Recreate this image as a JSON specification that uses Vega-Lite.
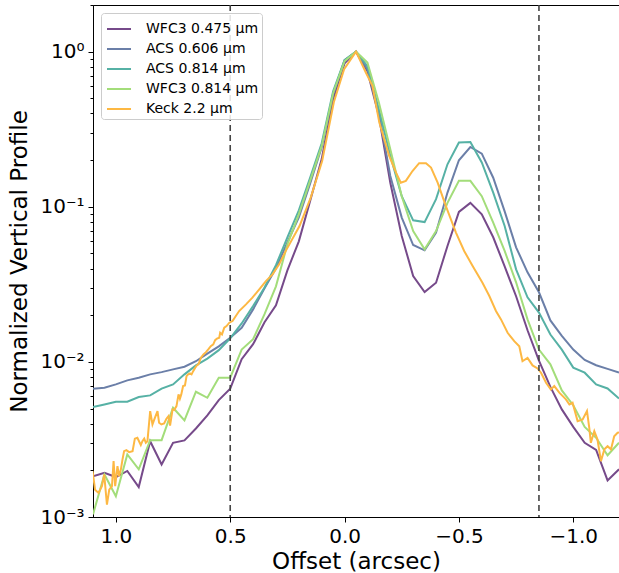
{
  "$schema": "https://vega.github.io/schema/vega-lite/v6.json",
  "width": 526,
  "height": 512,
  "autosize": {"type": "none"},
  "padding": {"left": 93, "top": 5, "right": 0, "bottom": 56},
  "background": "white",
  "config": {"view": {"stroke": "black", "strokeWidth": 1}, "font": "DejaVu Sans"},
  "datasets": {
    "vlines": [{"x": 0.5}, {"x": -0.85}],
    "profiles": [
      {"s":"WFC3 0.475 μm","x":1.10,"y":0.00183},{"s":"WFC3 0.475 μm","x":1.05,"y":0.00193},{"s":"WFC3 0.475 μm","x":1.00,"y":0.00181},{"s":"WFC3 0.475 μm","x":0.95,"y":0.00198},{"s":"WFC3 0.475 μm","x":0.90,"y":0.00156},{"s":"WFC3 0.475 μm","x":0.85,"y":0.00308},{"s":"WFC3 0.475 μm","x":0.80,"y":0.00218},{"s":"WFC3 0.475 μm","x":0.75,"y":0.00301},{"s":"WFC3 0.475 μm","x":0.70,"y":0.00312},{"s":"WFC3 0.475 μm","x":0.65,"y":0.00372},{"s":"WFC3 0.475 μm","x":0.60,"y":0.00452},{"s":"WFC3 0.475 μm","x":0.55,"y":0.00567},{"s":"WFC3 0.475 μm","x":0.50,"y":0.00672},{"s":"WFC3 0.475 μm","x":0.45,"y":0.0104},{"s":"WFC3 0.475 μm","x":0.40,"y":0.0130},{"s":"WFC3 0.475 μm","x":0.35,"y":0.0180},{"s":"WFC3 0.475 μm","x":0.30,"y":0.0232},{"s":"WFC3 0.475 μm","x":0.25,"y":0.0389},{"s":"WFC3 0.475 μm","x":0.20,"y":0.0599},{"s":"WFC3 0.475 μm","x":0.15,"y":0.110},{"s":"WFC3 0.475 μm","x":0.10,"y":0.203},{"s":"WFC3 0.475 μm","x":0.05,"y":0.494},{"s":"WFC3 0.475 μm","x":0.00,"y":0.843},{"s":"WFC3 0.475 μm","x":-0.05,"y":1.0},{"s":"WFC3 0.475 μm","x":-0.10,"y":0.748},{"s":"WFC3 0.475 μm","x":-0.15,"y":0.385},{"s":"WFC3 0.475 μm","x":-0.20,"y":0.143},{"s":"WFC3 0.475 μm","x":-0.25,"y":0.0648},{"s":"WFC3 0.475 μm","x":-0.30,"y":0.0358},{"s":"WFC3 0.475 μm","x":-0.35,"y":0.0282},{"s":"WFC3 0.475 μm","x":-0.40,"y":0.0324},{"s":"WFC3 0.475 μm","x":-0.45,"y":0.0559},{"s":"WFC3 0.475 μm","x":-0.50,"y":0.0926},{"s":"WFC3 0.475 μm","x":-0.55,"y":0.106},{"s":"WFC3 0.475 μm","x":-0.60,"y":0.0894},{"s":"WFC3 0.475 μm","x":-0.65,"y":0.0636},{"s":"WFC3 0.475 μm","x":-0.70,"y":0.0413},{"s":"WFC3 0.475 μm","x":-0.75,"y":0.0265},{"s":"WFC3 0.475 μm","x":-0.80,"y":0.0160},{"s":"WFC3 0.475 μm","x":-0.85,"y":0.0102},{"s":"WFC3 0.475 μm","x":-0.90,"y":0.00690},{"s":"WFC3 0.475 μm","x":-0.95,"y":0.00494},{"s":"WFC3 0.475 μm","x":-1.00,"y":0.00381},{"s":"WFC3 0.475 μm","x":-1.05,"y":0.00301},{"s":"WFC3 0.475 μm","x":-1.10,"y":0.00271},{"s":"WFC3 0.475 μm","x":-1.15,"y":0.00172},{"s":"WFC3 0.475 μm","x":-1.20,"y":0.00203},

      {"s":"ACS 0.606 μm","x":1.10,"y":0.00672},{"s":"ACS 0.606 μm","x":1.05,"y":0.00682},{"s":"ACS 0.606 μm","x":1.00,"y":0.00716},{"s":"ACS 0.606 μm","x":0.95,"y":0.00760},{"s":"ACS 0.606 μm","x":0.90,"y":0.00791},{"s":"ACS 0.606 μm","x":0.85,"y":0.00831},{"s":"ACS 0.606 μm","x":0.80,"y":0.00859},{"s":"ACS 0.606 μm","x":0.75,"y":0.00895},{"s":"ACS 0.606 μm","x":0.70,"y":0.00931},{"s":"ACS 0.606 μm","x":0.65,"y":0.0101},{"s":"ACS 0.606 μm","x":0.60,"y":0.0113},{"s":"ACS 0.606 μm","x":0.55,"y":0.0126},{"s":"ACS 0.606 μm","x":0.50,"y":0.0143},{"s":"ACS 0.606 μm","x":0.45,"y":0.0166},{"s":"ACS 0.606 μm","x":0.40,"y":0.0218},{"s":"ACS 0.606 μm","x":0.35,"y":0.0298},{"s":"ACS 0.606 μm","x":0.30,"y":0.0401},{"s":"ACS 0.606 μm","x":0.25,"y":0.0590},{"s":"ACS 0.606 μm","x":0.20,"y":0.0855},{"s":"ACS 0.606 μm","x":0.15,"y":0.142},{"s":"ACS 0.606 μm","x":0.10,"y":0.242},{"s":"ACS 0.606 μm","x":0.05,"y":0.532},{"s":"ACS 0.606 μm","x":0.00,"y":0.881},{"s":"ACS 0.606 μm","x":-0.05,"y":1.0},{"s":"ACS 0.606 μm","x":-0.10,"y":0.771},{"s":"ACS 0.606 μm","x":-0.15,"y":0.405},{"s":"ACS 0.606 μm","x":-0.20,"y":0.158},{"s":"ACS 0.606 μm","x":-0.25,"y":0.0852},{"s":"ACS 0.606 μm","x":-0.30,"y":0.0567},{"s":"ACS 0.606 μm","x":-0.35,"y":0.0524},{"s":"ACS 0.606 μm","x":-0.40,"y":0.0682},{"s":"ACS 0.606 μm","x":-0.45,"y":0.1235},{"s":"ACS 0.606 μm","x":-0.50,"y":0.1995},{"s":"ACS 0.606 μm","x":-0.55,"y":0.243},{"s":"ACS 0.606 μm","x":-0.60,"y":0.220},{"s":"ACS 0.606 μm","x":-0.65,"y":0.154},{"s":"ACS 0.606 μm","x":-0.70,"y":0.0935},{"s":"ACS 0.606 μm","x":-0.75,"y":0.0548},{"s":"ACS 0.606 μm","x":-0.80,"y":0.0378},{"s":"ACS 0.606 μm","x":-0.85,"y":0.0281},{"s":"ACS 0.606 μm","x":-0.90,"y":0.0185},{"s":"ACS 0.606 μm","x":-0.95,"y":0.0147},{"s":"ACS 0.606 μm","x":-1.00,"y":0.0120},{"s":"ACS 0.606 μm","x":-1.05,"y":0.0103},{"s":"ACS 0.606 μm","x":-1.10,"y":0.00952},{"s":"ACS 0.606 μm","x":-1.15,"y":0.00901},{"s":"ACS 0.606 μm","x":-1.20,"y":0.00855},

      {"s":"ACS 0.814 μm","x":1.10,"y":0.00511},{"s":"ACS 0.814 μm","x":1.05,"y":0.00532},{"s":"ACS 0.814 μm","x":1.00,"y":0.00554},{"s":"ACS 0.814 μm","x":0.95,"y":0.00554},{"s":"ACS 0.814 μm","x":0.90,"y":0.00593},{"s":"ACS 0.814 μm","x":0.85,"y":0.00608},{"s":"ACS 0.814 μm","x":0.80,"y":0.00672},{"s":"ACS 0.814 μm","x":0.75,"y":0.00716},{"s":"ACS 0.814 μm","x":0.70,"y":0.00831},{"s":"ACS 0.814 μm","x":0.65,"y":0.00949},{"s":"ACS 0.814 μm","x":0.60,"y":0.0105},{"s":"ACS 0.814 μm","x":0.55,"y":0.0119},{"s":"ACS 0.814 μm","x":0.50,"y":0.0142},{"s":"ACS 0.814 μm","x":0.45,"y":0.0177},{"s":"ACS 0.814 μm","x":0.40,"y":0.0229},{"s":"ACS 0.814 μm","x":0.35,"y":0.0302},{"s":"ACS 0.814 μm","x":0.30,"y":0.0420},{"s":"ACS 0.814 μm","x":0.25,"y":0.0636},{"s":"ACS 0.814 μm","x":0.20,"y":0.0949},{"s":"ACS 0.814 μm","x":0.15,"y":0.155},{"s":"ACS 0.814 μm","x":0.10,"y":0.257},{"s":"ACS 0.814 μm","x":0.05,"y":0.556},{"s":"ACS 0.814 μm","x":0.00,"y":0.881},{"s":"ACS 0.814 μm","x":-0.05,"y":1.0},{"s":"ACS 0.814 μm","x":-0.10,"y":0.806},{"s":"ACS 0.814 μm","x":-0.15,"y":0.426},{"s":"ACS 0.814 μm","x":-0.20,"y":0.213},{"s":"ACS 0.814 μm","x":-0.25,"y":0.117},{"s":"ACS 0.814 μm","x":-0.30,"y":0.0818},{"s":"ACS 0.814 μm","x":-0.35,"y":0.0797},{"s":"ACS 0.814 μm","x":-0.40,"y":0.112},{"s":"ACS 0.814 μm","x":-0.45,"y":0.188},{"s":"ACS 0.814 μm","x":-0.50,"y":0.260},{"s":"ACS 0.814 μm","x":-0.55,"y":0.262},{"s":"ACS 0.814 μm","x":-0.60,"y":0.193},{"s":"ACS 0.814 μm","x":-0.65,"y":0.1235},{"s":"ACS 0.814 μm","x":-0.70,"y":0.0752},{"s":"ACS 0.814 μm","x":-0.75,"y":0.0395},{"s":"ACS 0.814 μm","x":-0.80,"y":0.0261},{"s":"ACS 0.814 μm","x":-0.85,"y":0.0208},{"s":"ACS 0.814 μm","x":-0.90,"y":0.0150},{"s":"ACS 0.814 μm","x":-0.95,"y":0.0120},{"s":"ACS 0.814 μm","x":-1.00,"y":0.00918},{"s":"ACS 0.814 μm","x":-1.05,"y":0.00852},{"s":"ACS 0.814 μm","x":-1.10,"y":0.00716},{"s":"ACS 0.814 μm","x":-1.15,"y":0.00674},{"s":"ACS 0.814 μm","x":-1.20,"y":0.00581},

      {"s":"WFC3 0.814 μm","x":1.10,"y":0.00104},{"s":"WFC3 0.814 μm","x":1.05,"y":0.00188},{"s":"WFC3 0.814 μm","x":1.00,"y":0.00136},{"s":"WFC3 0.814 μm","x":0.95,"y":0.00253},{"s":"WFC3 0.814 μm","x":0.90,"y":0.00203},{"s":"WFC3 0.814 μm","x":0.85,"y":0.00313},{"s":"WFC3 0.814 μm","x":0.80,"y":0.00313},{"s":"WFC3 0.814 μm","x":0.75,"y":0.00506},{"s":"WFC3 0.814 μm","x":0.70,"y":0.00419},{"s":"WFC3 0.814 μm","x":0.65,"y":0.00642},{"s":"WFC3 0.814 μm","x":0.60,"y":0.00587},{"s":"WFC3 0.814 μm","x":0.55,"y":0.00791},{"s":"WFC3 0.814 μm","x":0.50,"y":0.00791},{"s":"WFC3 0.814 μm","x":0.45,"y":0.0120},{"s":"WFC3 0.814 μm","x":0.40,"y":0.0140},{"s":"WFC3 0.814 μm","x":0.35,"y":0.0203},{"s":"WFC3 0.814 μm","x":0.30,"y":0.0307},{"s":"WFC3 0.814 μm","x":0.25,"y":0.0573},{"s":"WFC3 0.814 μm","x":0.20,"y":0.0894},{"s":"WFC3 0.814 μm","x":0.15,"y":0.148},{"s":"WFC3 0.814 μm","x":0.10,"y":0.246},{"s":"WFC3 0.814 μm","x":0.05,"y":0.540},{"s":"WFC3 0.814 μm","x":0.00,"y":0.869},{"s":"WFC3 0.814 μm","x":-0.05,"y":1.0},{"s":"WFC3 0.814 μm","x":-0.10,"y":0.852},{"s":"WFC3 0.814 μm","x":-0.15,"y":0.470},{"s":"WFC3 0.814 μm","x":-0.20,"y":0.235},{"s":"WFC3 0.814 μm","x":-0.25,"y":0.117},{"s":"WFC3 0.814 μm","x":-0.30,"y":0.0698},{"s":"WFC3 0.814 μm","x":-0.35,"y":0.0532},{"s":"WFC3 0.814 μm","x":-0.40,"y":0.0698},{"s":"WFC3 0.814 μm","x":-0.45,"y":0.106},{"s":"WFC3 0.814 μm","x":-0.50,"y":0.147},{"s":"WFC3 0.814 μm","x":-0.55,"y":0.147},{"s":"WFC3 0.814 μm","x":-0.60,"y":0.117},{"s":"WFC3 0.814 μm","x":-0.65,"y":0.0791},{"s":"WFC3 0.814 μm","x":-0.70,"y":0.0519},{"s":"WFC3 0.814 μm","x":-0.75,"y":0.0326},{"s":"WFC3 0.814 μm","x":-0.80,"y":0.0188},{"s":"WFC3 0.814 μm","x":-0.85,"y":0.0120},{"s":"WFC3 0.814 μm","x":-0.90,"y":0.00964},{"s":"WFC3 0.814 μm","x":-0.95,"y":0.00655},{"s":"WFC3 0.814 μm","x":-1.00,"y":0.00526},{"s":"WFC3 0.814 μm","x":-1.05,"y":0.00381},{"s":"WFC3 0.814 μm","x":-1.10,"y":0.00324},{"s":"WFC3 0.814 μm","x":-1.15,"y":0.00250},{"s":"WFC3 0.814 μm","x":-1.20,"y":0.00301},

      {"s":"Keck 2.2 μm","x":1.102,"y":0.00198},{"s":"Keck 2.2 μm","x":1.091,"y":0.00150},{"s":"Keck 2.2 μm","x":1.076,"y":0.00143},{"s":"Keck 2.2 μm","x":1.061,"y":0.00158},{"s":"Keck 2.2 μm","x":1.051,"y":0.00188},{"s":"Keck 2.2 μm","x":1.039,"y":0.00120},{"s":"Keck 2.2 μm","x":1.029,"y":0.00150},{"s":"Keck 2.2 μm","x":1.017,"y":0.00158},{"s":"Keck 2.2 μm","x":1.010,"y":0.00229},{"s":"Keck 2.2 μm","x":1.003,"y":0.00158},{"s":"Keck 2.2 μm","x":0.993,"y":0.00213},{"s":"Keck 2.2 μm","x":0.986,"y":0.00183},{"s":"Keck 2.2 μm","x":0.978,"y":0.00203},{"s":"Keck 2.2 μm","x":0.971,"y":0.00235},{"s":"Keck 2.2 μm","x":0.964,"y":0.00266},{"s":"Keck 2.2 μm","x":0.954,"y":0.00270},{"s":"Keck 2.2 μm","x":0.942,"y":0.00262},{"s":"Keck 2.2 μm","x":0.927,"y":0.00266},{"s":"Keck 2.2 μm","x":0.917,"y":0.00320},{"s":"Keck 2.2 μm","x":0.906,"y":0.00324},{"s":"Keck 2.2 μm","x":0.891,"y":0.00291},{"s":"Keck 2.2 μm","x":0.884,"y":0.00308},{"s":"Keck 2.2 μm","x":0.876,"y":0.00320},{"s":"Keck 2.2 μm","x":0.869,"y":0.00301},{"s":"Keck 2.2 μm","x":0.862,"y":0.00308},{"s":"Keck 2.2 μm","x":0.850,"y":0.00482},{"s":"Keck 2.2 μm","x":0.840,"y":0.00395},{"s":"Keck 2.2 μm","x":0.829,"y":0.00437},{"s":"Keck 2.2 μm","x":0.818,"y":0.00482},{"s":"Keck 2.2 μm","x":0.811,"y":0.00405},{"s":"Keck 2.2 μm","x":0.801,"y":0.00395},{"s":"Keck 2.2 μm","x":0.789,"y":0.00401},{"s":"Keck 2.2 μm","x":0.779,"y":0.00430},{"s":"Keck 2.2 μm","x":0.770,"y":0.00447},{"s":"Keck 2.2 μm","x":0.763,"y":0.00389},{"s":"Keck 2.2 μm","x":0.752,"y":0.00494},{"s":"Keck 2.2 μm","x":0.745,"y":0.00489},{"s":"Keck 2.2 μm","x":0.735,"y":0.00519},{"s":"Keck 2.2 μm","x":0.726,"y":0.00617},{"s":"Keck 2.2 μm","x":0.720,"y":0.00579},{"s":"Keck 2.2 μm","x":0.714,"y":0.00617},{"s":"Keck 2.2 μm","x":0.706,"y":0.00698},{"s":"Keck 2.2 μm","x":0.698,"y":0.00705},{"s":"Keck 2.2 μm","x":0.691,"y":0.00810},{"s":"Keck 2.2 μm","x":0.684,"y":0.00831},{"s":"Keck 2.2 μm","x":0.676,"y":0.00843},{"s":"Keck 2.2 μm","x":0.669,"y":0.00831},{"s":"Keck 2.2 μm","x":0.662,"y":0.00872},{"s":"Keck 2.2 μm","x":0.653,"y":0.00918},{"s":"Keck 2.2 μm","x":0.646,"y":0.00949},{"s":"Keck 2.2 μm","x":0.639,"y":0.00964},{"s":"Keck 2.2 μm","x":0.628,"y":0.01064},{"s":"Keck 2.2 μm","x":0.617,"y":0.01118},{"s":"Keck 2.2 μm","x":0.606,"y":0.01156},{"s":"Keck 2.2 μm","x":0.596,"y":0.01204},{"s":"Keck 2.2 μm","x":0.585,"y":0.01264},{"s":"Keck 2.2 μm","x":0.574,"y":0.01297},{"s":"Keck 2.2 μm","x":0.566,"y":0.01382},{"s":"Keck 2.2 μm","x":0.558,"y":0.01411},{"s":"Keck 2.2 μm","x":0.548,"y":0.01432},{"s":"Keck 2.2 μm","x":0.544,"y":0.01543},{"s":"Keck 2.2 μm","x":0.536,"y":0.01504},{"s":"Keck 2.2 μm","x":0.526,"y":0.01662},{"s":"Keck 2.2 μm","x":0.516,"y":0.01702},{"s":"Keck 2.2 μm","x":0.504,"y":0.01790},{"s":"Keck 2.2 μm","x":0.490,"y":0.01833},{"s":"Keck 2.2 μm","x":0.461,"y":0.02127},{"s":"Keck 2.2 μm","x":0.431,"y":0.02350},{"s":"Keck 2.2 μm","x":0.403,"y":0.02596},{"s":"Keck 2.2 μm","x":0.373,"y":0.02936},{"s":"Keck 2.2 μm","x":0.344,"y":0.03321},{"s":"Keck 2.2 μm","x":0.315,"y":0.03668},{"s":"Keck 2.2 μm","x":0.286,"y":0.04256},{"s":"Keck 2.2 μm","x":0.257,"y":0.0520},{"s":"Keck 2.2 μm","x":0.197,"y":0.0752},{"s":"Keck 2.2 μm","x":0.148,"y":0.1147},{"s":"Keck 2.2 μm","x":0.098,"y":0.1974},{"s":"Keck 2.2 μm","x":0.047,"y":0.472},{"s":"Keck 2.2 μm","x":0.002,"y":0.771},{"s":"Keck 2.2 μm","x":-0.050,"y":1.0},{"s":"Keck 2.2 μm","x":-0.093,"y":0.734},{"s":"Keck 2.2 μm","x":-0.122,"y":0.602},{"s":"Keck 2.2 μm","x":-0.152,"y":0.349},{"s":"Keck 2.2 μm","x":-0.195,"y":0.213},{"s":"Keck 2.2 μm","x":-0.225,"y":0.166},{"s":"Keck 2.2 μm","x":-0.246,"y":0.143},{"s":"Keck 2.2 μm","x":-0.268,"y":0.147},{"s":"Keck 2.2 μm","x":-0.297,"y":0.170},{"s":"Keck 2.2 μm","x":-0.326,"y":0.191},{"s":"Keck 2.2 μm","x":-0.356,"y":0.191},{"s":"Keck 2.2 μm","x":-0.378,"y":0.179},{"s":"Keck 2.2 μm","x":-0.407,"y":0.143},{"s":"Keck 2.2 μm","x":-0.443,"y":0.101},{"s":"Keck 2.2 μm","x":-0.487,"y":0.0682},{"s":"Keck 2.2 μm","x":-0.523,"y":0.0519},{"s":"Keck 2.2 μm","x":-0.560,"y":0.0415},{"s":"Keck 2.2 μm","x":-0.603,"y":0.0324},{"s":"Keck 2.2 μm","x":-0.633,"y":0.0266},{"s":"Keck 2.2 μm","x":-0.662,"y":0.0213},{"s":"Keck 2.2 μm","x":-0.684,"y":0.0188},{"s":"Keck 2.2 μm","x":-0.713,"y":0.0154},{"s":"Keck 2.2 μm","x":-0.742,"y":0.0136},{"s":"Keck 2.2 μm","x":-0.764,"y":0.0126},{"s":"Keck 2.2 μm","x":-0.778,"y":0.0101},{"s":"Keck 2.2 μm","x":-0.800,"y":0.0106},{"s":"Keck 2.2 μm","x":-0.822,"y":0.00949},{"s":"Keck 2.2 μm","x":-0.844,"y":0.00908},{"s":"Keck 2.2 μm","x":-0.859,"y":0.00852},{"s":"Keck 2.2 μm","x":-0.881,"y":0.00734},{"s":"Keck 2.2 μm","x":-0.902,"y":0.00665},{"s":"Keck 2.2 μm","x":-0.917,"y":0.00698},{"s":"Keck 2.2 μm","x":-0.939,"y":0.00633},{"s":"Keck 2.2 μm","x":-0.968,"y":0.00573},{"s":"Keck 2.2 μm","x":-0.983,"y":0.00532},{"s":"Keck 2.2 μm","x":-0.997,"y":0.00545},{"s":"Keck 2.2 μm","x":-1.019,"y":0.00415},{"s":"Keck 2.2 μm","x":-1.041,"y":0.00426},{"s":"Keck 2.2 μm","x":-1.060,"y":0.00482},{"s":"Keck 2.2 μm","x":-1.070,"y":0.00376},{"s":"Keck 2.2 μm","x":-1.077,"y":0.00301},{"s":"Keck 2.2 μm","x":-1.092,"y":0.00358},{"s":"Keck 2.2 μm","x":-1.106,"y":0.00316},{"s":"Keck 2.2 μm","x":-1.121,"y":0.00229},{"s":"Keck 2.2 μm","x":-1.136,"y":0.00273},{"s":"Keck 2.2 μm","x":-1.150,"y":0.00286},{"s":"Keck 2.2 μm","x":-1.165,"y":0.00273},{"s":"Keck 2.2 μm","x":-1.179,"y":0.00332},{"s":"Keck 2.2 μm","x":-1.194,"y":0.00349},{"s":"Keck 2.2 μm","x":-1.200,"y":0.00350}
    ]
  },
  "layer": [
    {
      "data": {"name": "profiles"},
      "mark": {"type": "line", "strokeWidth": 2, "clip": true},
      "encoding": {
        "x": {
          "field": "x", "type": "quantitative",
          "scale": {"domain": [-1.2, 1.1], "reverse": true, "nice": false, "zero": false},
          "axis": {
            "title": "Offset (arcsec)",
            "values": [1.0, 0.5, 0.0, -0.5, -1.0],
            "labelExpr": "replace(format(datum.value, '.1f'), '-', '−')",
            "grid": false, "tickSize": 5, "tickColor": "black", "domainColor": "black",
            "labelFont": "DejaVu Sans", "labelFontSize": 20, "labelColor": "black", "labelPadding": 4,
            "titleFont": "DejaVu Sans", "titleFontSize": 23, "titleFontWeight": "normal", "titleColor": "black", "titlePadding": 4,
            "labelFlush": false
          }
        },
        "y": {
          "field": "y", "type": "quantitative",
          "scale": {"type": "log", "domain": [0.001, 2], "nice": false},
          "axis": {
            "title": "Normalized Vertical Profile",
            "values": [0.001,0.002,0.003,0.004,0.005,0.006,0.007,0.008,0.009,0.01,0.02,0.03,0.04,0.05,0.06,0.07,0.08,0.09,0.1,0.2,0.3,0.4,0.5,0.6,0.7,0.8,0.9,1,2],
            "labelExpr": "datum.value == 1 ? '10⁰' : datum.value == 0.1 ? '10⁻¹' : datum.value == 0.01 ? '10⁻²' : datum.value == 0.001 ? '10⁻³' : ''",
            "tickSize": {"condition": {"test": "datum.value == 1 || datum.value == 0.1 || datum.value == 0.01 || datum.value == 0.001", "value": 5}, "value": 3},
            "grid": false, "tickColor": "black", "domainColor": "black",
            "labelFont": "DejaVu Sans", "labelFontSize": 20, "labelColor": "black", "labelPadding": 4,
            "titleFont": "DejaVu Sans", "titleFontSize": 23, "titleFontWeight": "normal", "titleColor": "black", "titlePadding": 8,
            "labelFlush": false, "labelOverlap": false
          }
        },
        "color": {
          "field": "s", "type": "nominal",
          "scale": {
            "domain": ["WFC3 0.475 μm", "ACS 0.606 μm", "ACS 0.814 μm", "WFC3 0.814 μm", "Keck 2.2 μm"],
            "range": ["#764a8a", "#6b7fa8", "#56b1a5", "#a3dd7a", "#fdb843"]
          },
          "legend": {
            "title": null, "orient": "top-left", "offset": 8,
            "symbolType": "M-1,0H1", "symbolSize": 576, "symbolStrokeWidth": 2, "symbolOffset": 2,
            "labelFont": "DejaVu Sans", "labelFontSize": 14, "labelColor": "black", "labelOffset": 14,
            "rowPadding": -1, "padding": 3,
            "fillColor": "rgba(255,255,255,0.85)", "strokeColor": "#cccccc", "cornerRadius": 3
          }
        }
      }
    },
    {
      "data": {"name": "vlines"},
      "mark": {"type": "rule", "strokeDash": [6, 4], "color": "#444444", "strokeWidth": 1.6},
      "encoding": {"x": {"field": "x", "type": "quantitative"}}
    }
  ]
}
